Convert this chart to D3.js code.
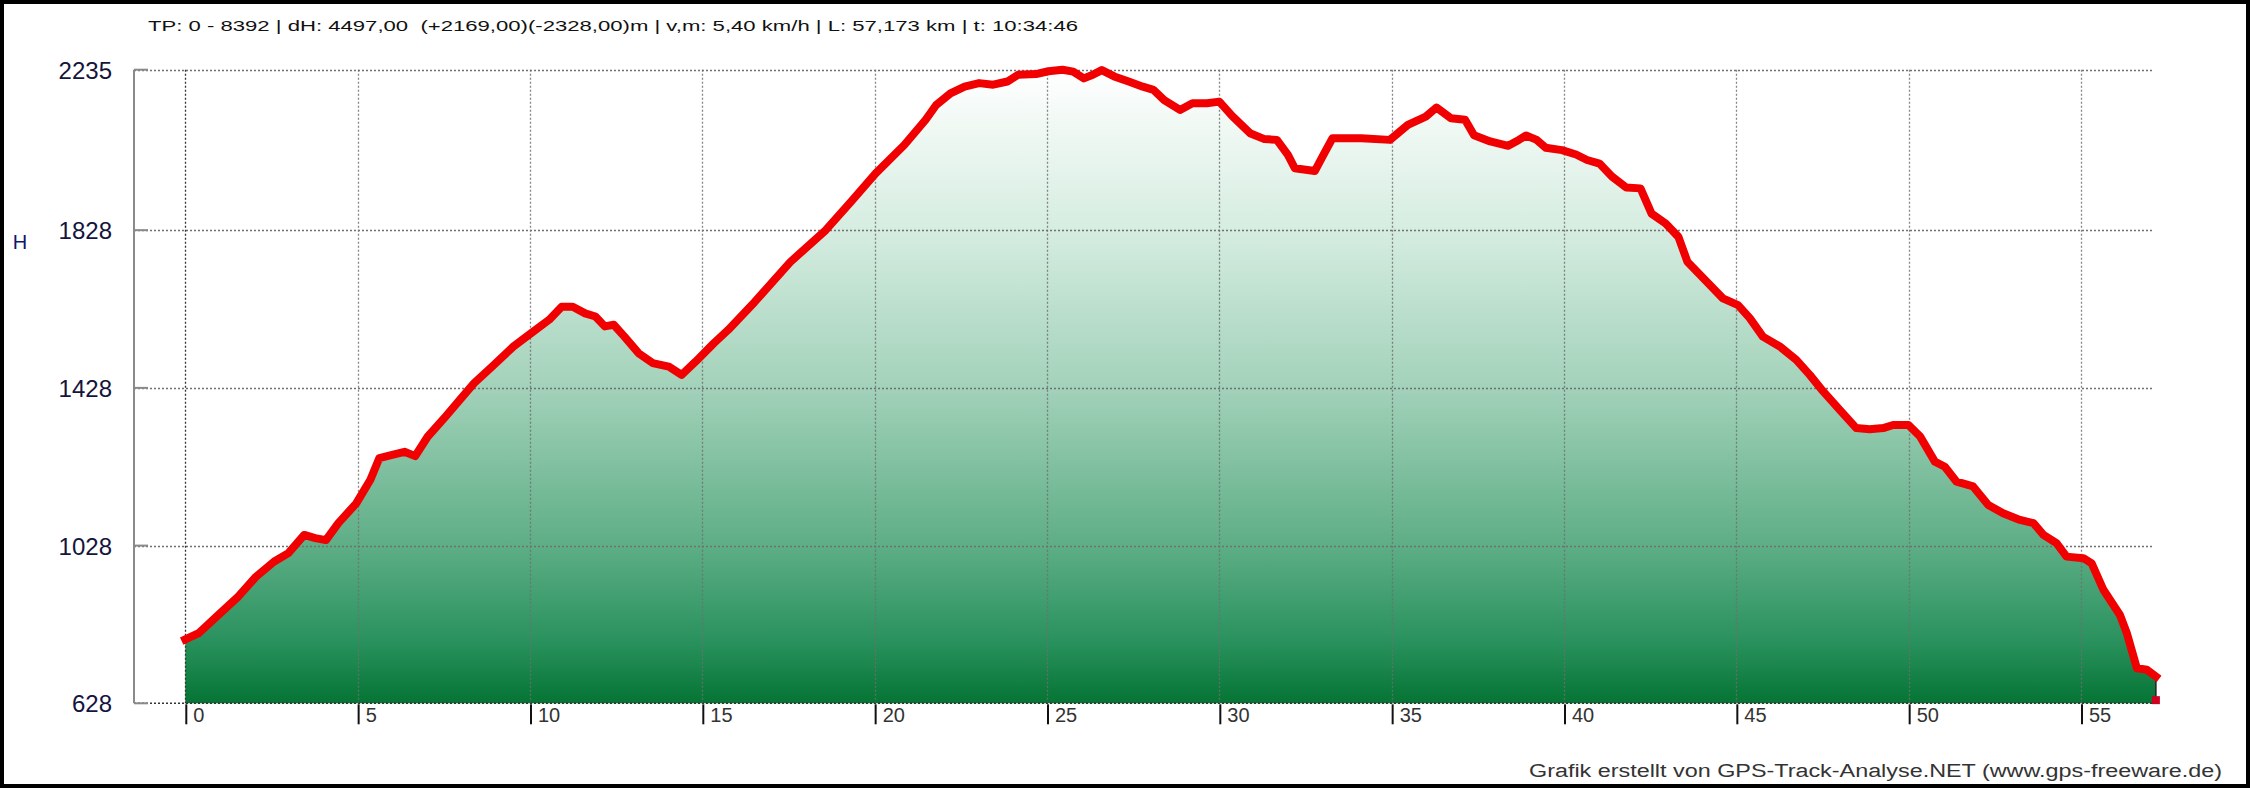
<!DOCTYPE html>
<html>
<head>
<meta charset="utf-8">
<script src="https://cdn.jsdelivr.net/npm/d3@7"></script>
<style>
  html, body { margin: 0; padding: 0; background: #fff; }
  svg { display: block; }
</style>
</head>
<body>
<svg id="chart" width="2250" height="788"></svg>
<script>
// ---- data (distance km, elevation m) ----
const distKm = [
  0, 0.39, 0.91, 1.54, 2.05, 2.57, 2.99, 3.45, 3.77, 4.08,
  4.44, 4.96, 5.37, 5.63, 6.0, 6.36, 6.67, 7.03, 7.55, 7.97,
  8.38, 8.9, 9.52, 10.04, 10.56, 10.92, 11.24, 11.6, 11.9, 12.17,
  12.43, 12.74, 13.15, 13.56, 14.03, 14.4, 14.81, 15.33, 15.75, 16.52,
  17.55, 18.58, 19.31, 20.03, 20.86, 21.48, 21.79, 22.2, 22.61, 23.03,
  23.44, 23.85, 24.16, 24.68, 25.04, 25.45, 25.76, 26.07, 26.33, 26.59,
  26.95, 27.37, 27.78, 28.09, 28.4, 28.86, 29.22, 29.64, 30.0, 30.37,
  30.89, 31.31, 31.67, 31.99, 32.19, 32.77, 33.02, 33.28, 34.12, 34.95,
  35.47, 35.99, 36.3, 36.72, 37.13, 37.39, 37.86, 38.38, 38.69, 38.9,
  39.21, 39.47, 39.94, 40.35, 40.67, 41.03, 41.39, 41.81, 42.22, 42.54,
  42.95, 43.32, 43.58, 44.1, 44.61, 45.05, 45.39, 45.77, 46.26, 46.74,
  47.13, 47.52, 48.0, 48.48, 48.87, 49.26, 49.55, 49.99, 50.33, 50.76,
  51.05, 51.39, 51.87, 52.31, 52.74, 53.23, 53.62, 53.91, 54.29, 54.58,
  55.07, 55.31, 55.65, 56.13, 56.33, 56.62, 56.91, 57.173
];
const elevM = [
  790, 806, 848, 899, 949, 987, 1009, 1055, 1047, 1042,
  1085, 1135, 1195, 1250, 1258, 1266, 1255, 1304, 1355, 1398,
  1440, 1482, 1533, 1567, 1601, 1634, 1634, 1617, 1609, 1584,
  1588, 1558, 1516, 1491, 1482, 1461, 1495, 1541, 1575, 1646,
  1747, 1828, 1900, 1972, 2044, 2108, 2146, 2175, 2192, 2201,
  2197, 2205, 2222, 2224, 2231, 2235, 2230, 2213, 2222, 2234,
  2218, 2205, 2192, 2184, 2158, 2133, 2150, 2150, 2154, 2118,
  2074, 2059, 2057, 2019, 1985, 1978, 2019, 2061, 2061, 2057,
  2095, 2116, 2139, 2112, 2108, 2069, 2053, 2042, 2057, 2068,
  2057, 2037, 2031, 2020, 2006, 1997, 1964, 1936, 1934, 1870,
  1845, 1811, 1748, 1701, 1655, 1638, 1605, 1558, 1533, 1499,
  1461, 1419, 1372, 1326, 1323, 1326, 1334, 1334, 1305, 1241,
  1228, 1190, 1178, 1131, 1110, 1093, 1085, 1055, 1034, 1000,
  996, 983, 916, 852, 806, 717, 713, 696
];
const endPoint = [57.173, 636];
const xTicks = [0, 5, 10, 15, 20, 25, 30, 35, 40, 45, 50, 55];
const yTicks = [628, 1028, 1428, 1828, 2235];
const titleText = "TP: 0 - 8392 | dH: 4497,00  (+2169,00)(-2328,00)m | v,m: 5,40 km/h | L: 57,173 km | t: 10:34:46";
const creditText = "Grafik erstellt von GPS-Track-Analyse.NET (www.gps-freeware.de)";
const yAxisLabel = "H";

// ---- layout ----
const W = 2250, H = 788;
const axisX = 134, gridRight = 2153;
const x = d3.scaleLinear().domain([0, 55]).range([185.3, 2081]);
const y = d3.scaleLinear().domain([628, 2235]).range([703.3, 69.7]);

const svg = d3.select("#chart");
svg.append("rect").attr("width", W).attr("height", H).attr("fill", "#fff");

const defs = svg.append("defs");
const grad = defs.append("linearGradient").attr("id", "fillGrad")
  .attr("gradientUnits", "userSpaceOnUse")
  .attr("x1", 0).attr("x2", 0).attr("y1", y(2235)).attr("y2", y(628));
[[0, "#ffffff"], [0.25, "#d6ede1"], [0.5, "#a3d2ba"], [0.75, "#5eae86"], [0.9, "#2a925e"], [1, "#057434"]]
  .forEach(([o, c]) => grad.append("stop").attr("offset", o).attr("stop-color", c));

const pts = distKm.map((d, i) => [d, elevM[i]]);
const areaPts = pts.concat([endPoint]);

// area
svg.append("path").datum(areaPts)
  .attr("fill", "url(#fillGrad)")
  .attr("d", d3.area().x(d => x(d[0])).y0(y(628)).y1(d => y(d[1])));

// grid
const grid = svg.append("g");
grid.selectAll("line.h").data(yTicks.filter(v => v !== 628)).join("line")
  .attr("x1", axisX).attr("x2", gridRight)
  .attr("y1", d => Math.round(y(d)) + 0.5).attr("y2", d => Math.round(y(d)) + 0.5)
  .attr("stroke", "#707070").attr("stroke-width", 1.3).attr("stroke-dasharray", "2,2");
grid.selectAll("line.v").data(xTicks).join("line")
  .attr("x1", d => Math.round(x(d)) + 0.5).attr("x2", d => Math.round(x(d)) + 0.5)
  .attr("y1", y(2235)).attr("y2", y(628))
  .attr("stroke", d => d === 0 ? "#333" : "#707070")
  .attr("stroke-width", 1.3).attr("stroke-dasharray", "2,2")
  .attr("opacity", d => d === 0 ? 1 : 0.85);
// baseline
svg.append("line")
  .attr("x1", axisX).attr("x2", x(endPoint[0]))
  .attr("y1", y(628)).attr("y2", y(628))
  .attr("stroke", "#333").attr("stroke-width", 1.5).attr("stroke-dasharray", "2,2");
// right end edge
svg.append("line")
  .attr("x1", x(endPoint[0])).attr("x2", x(endPoint[0]))
  .attr("y1", y(elevM[elevM.length - 1])).attr("y2", y(628))
  .attr("stroke", "#222").attr("stroke-width", 1.5);

// y axis line + short ticks
svg.append("line").attr("x1", axisX).attr("x2", axisX)
  .attr("y1", y(2235)).attr("y2", y(628))
  .attr("stroke", "#8a8a8a").attr("stroke-width", 2);
svg.selectAll("line.yt").data(yTicks).join("line")
  .attr("x1", axisX).attr("x2", axisX + 14)
  .attr("y1", d => y(d)).attr("y2", d => y(d))
  .attr("stroke", "#8a8a8a").attr("stroke-width", 2);

// y axis labels
const yAxis = d3.axisLeft(y).tickValues(yTicks).tickSize(0).tickPadding(22).tickFormat(d3.format("d"));
const gy = svg.append("g").attr("transform", `translate(${axisX},0)`).call(yAxis);
gy.select(".domain").remove();
gy.selectAll("text")
  .attr("font-family", "Liberation Sans, Arial, sans-serif")
  .attr("font-size", 24).attr("fill", "#14143c").attr("dy", "0.36em");

svg.append("text").text(yAxisLabel)
  .attr("x", 20).attr("y", 249).attr("text-anchor", "middle")
  .attr("font-family", "Liberation Sans, Arial, sans-serif")
  .attr("font-size", 20).attr("fill", "#14146a");

// x axis
const xAxis = d3.axisBottom(x).tickValues(xTicks).tickSize(20).tickPadding(0).tickFormat(d3.format("d"));
const gx = svg.append("g").attr("transform", `translate(0.5,${y(628) + 1})`).call(xAxis);
gx.select(".domain").remove();
gx.selectAll(".tick line").attr("stroke", "#111").attr("stroke-width", 2);
gx.selectAll("text")
  .attr("font-family", "Liberation Sans, Arial, sans-serif")
  .attr("font-size", 20).attr("fill", "#333")
  .attr("text-anchor", "start").attr("x", 7).attr("y", 4).attr("dy", "0.71em");

// red profile line
svg.append("path").datum(pts)
  .attr("fill", "none").attr("stroke", "#f00000").attr("stroke-width", 8)
  .attr("stroke-linejoin", "round").attr("stroke-linecap", "square")
  .attr("d", d3.line().x(d => x(d[0])).y(d => y(d[1])));
svg.append("rect")
  .attr("x", x(endPoint[0]) - 4).attr("y", y(endPoint[1]) - 4)
  .attr("width", 8).attr("height", 8).attr("fill", "#d00020");

// title
svg.append("text").text(titleText)
  .attr("x", 148).attr("y", 31)
  .attr("font-family", "Liberation Sans, Arial, sans-serif")
  .attr("font-size", 15.5).attr("fill", "#111")
  .attr("textLength", 930).attr("lengthAdjust", "spacingAndGlyphs")
  .style("white-space", "pre");

// credit
svg.append("text").text(creditText)
  .attr("x", 2222).attr("y", 777).attr("text-anchor", "end")
  .attr("font-family", "Liberation Sans, Arial, sans-serif")
  .attr("font-size", 18).attr("fill", "#333")
  .attr("textLength", 693).attr("lengthAdjust", "spacingAndGlyphs");

// frame
svg.append("rect").attr("x", 2).attr("y", 2)
  .attr("width", W - 4).attr("height", H - 4)
  .attr("fill", "none").attr("stroke", "#000").attr("stroke-width", 4);
</script>
</body>
</html>
